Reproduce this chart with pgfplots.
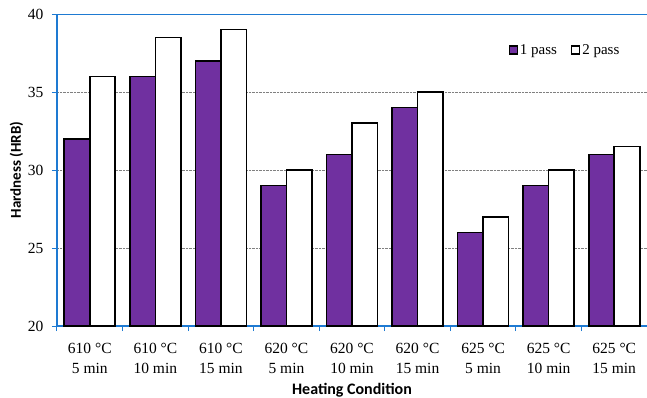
\documentclass[border=0pt]{standalone}
\usepackage{pgfplots}
\pgfplotsset{compat=1.18}
\usepackage{fontspec}
\setmainfont{Liberation Serif}
\newfontfamily\calibri{Carlito}
\definecolor{axblue}{RGB}{30,122,210}
\definecolor{barpurple}{RGB}{112,48,160}
\begin{document}
\begin{tikzpicture}
\begin{axis}[
  scale only axis, width=590pt, height=312pt,
  at={(0,0)}, anchor=south west,
  ymin=20, ymax=40, ytick={20,25,30,35,40},
  xmin=-0.5, xmax=8.5,
  axis x line=bottom, axis y line=left,
  axis line style={-, draw=axblue, line width=1.3pt},
  ybar=0pt, bar width=25.5pt,
  xtick={0,...,8},
  xticklabels={{610 °C\\5 min},{610 °C\\10 min},{610 °C\\15 min},{620 °C\\5 min},{620 °C\\10 min},{620 °C\\15 min},{625 °C\\5 min},{625 °C\\10 min},{625 °C\\15 min}},
  xticklabel style={align=center, font=\fontsize{15.5}{20}\selectfont, yshift=-9pt},
  xtick style={draw=none},
  minor xtick={-0.5,0.5,...,8.5},
  minor tick length=5pt,
  tick align=outside,
  major tick length=5pt,
  ytick style={draw=axblue, line width=1pt},
  minor x tick style={draw=axblue, line width=1pt},
  yticklabel style={font=\fontsize{15.5}{18}\selectfont, xshift=-5pt},
  /pgf/number format/assume math mode=true,
  ymajorgrids, grid style={densely dotted, gray, line width=0.8pt},
  xlabel={\calibri\bfseries Heating Condition},
  xlabel style={font=\fontsize{16}{18}\selectfont, yshift=-2pt},
  ylabel={\calibri\bfseries Hardness (HRB)},
  ylabel style={font=\fontsize{15}{17}\selectfont, yshift=-2pt},
  legend style={draw=none, fill=none, at={(0.76,0.885)}, anchor=west,
    font=\fontsize{15}{18}\selectfont, legend columns=2,
    /tikz/every even column/.append style={column sep=12pt}},
  legend image code/.code={\draw[#1, line width=1.3pt] (0pt,-4pt) rectangle (8pt,4pt);},
]
\addplot[fill=barpurple, draw=black, line width=1.6pt] coordinates {
(0,32) (1,36) (2,37) (3,29) (4,31) (5,34) (6,26) (7,29) (8,31)};
\addplot[fill=white, draw=black, line width=1.6pt] coordinates {
(0,36) (1,38.5) (2,39) (3,30) (4,33) (5,35) (6,27) (7,30) (8,31.5)};
\legend{1 pass, 2 pass}
\draw[axblue, line width=1.3pt] (rel axis cs:0,1) -- (rel axis cs:1,1);
\end{axis}
\pgfresetboundingbox
\path (-57pt,-71pt) rectangle (590pt,326pt);
\end{tikzpicture}
\end{document}
